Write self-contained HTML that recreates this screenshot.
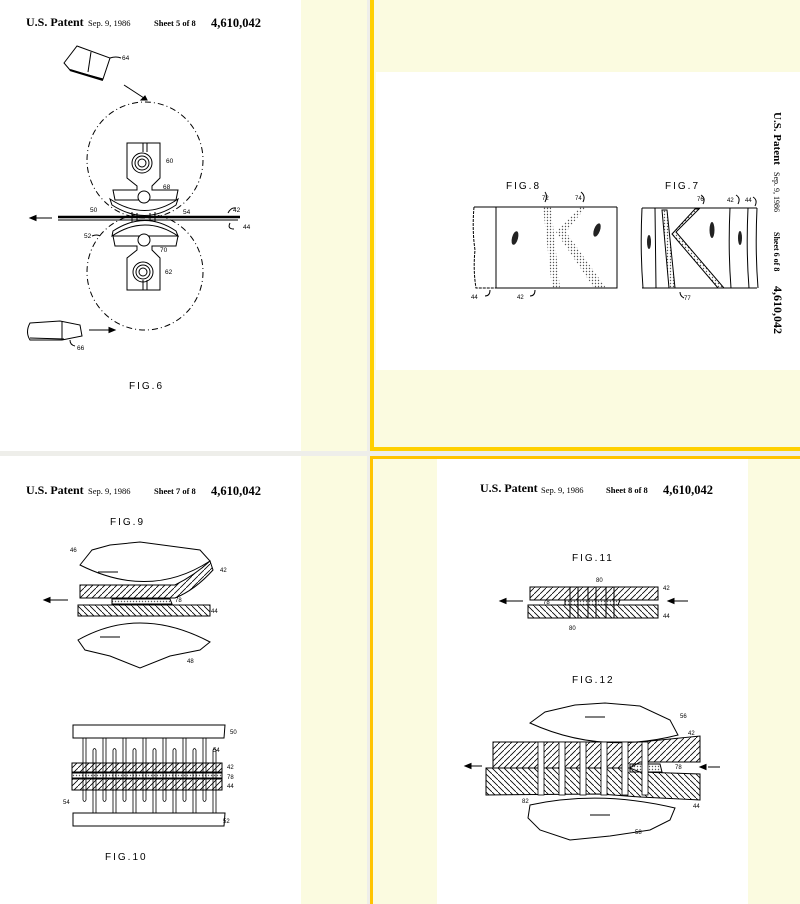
<!DOCTYPE html>
<html><head><meta charset="utf-8"><style>
html,body{margin:0;padding:0;background:#fff}
body{width:800px;height:904px;position:relative;overflow:hidden;font-family:"Liberation Serif",serif}
svg{position:absolute;left:0;top:0}
</style></head><body>
<svg width="800" height="904" viewBox="0 0 800 904" xmlns="http://www.w3.org/2000/svg" font-family="Liberation Serif, serif">
<defs>
<pattern id="h1" width="6" height="6" patternUnits="userSpaceOnUse"><path d="M0 6 L6 0" stroke="#000" stroke-width="0.8"/></pattern>
<pattern id="h2" width="6" height="6" patternUnits="userSpaceOnUse"><path d="M0 0 L6 6" stroke="#000" stroke-width="0.8"/></pattern>
<pattern id="dt" width="3" height="3" patternUnits="userSpaceOnUse"><circle cx="1.5" cy="1.5" r="0.7" fill="#555"/></pattern>
</defs>
<rect x="0" y="0" width="800" height="904" fill="#fbfbe0"/>
<rect x="0" y="0" width="301" height="451" fill="#fff"/>
<rect x="0" y="456" width="301" height="448" fill="#fff"/>
<rect x="367" y="0" width="3" height="904" fill="#eeeeea"/>
<rect x="0" y="451" width="800" height="5" fill="#eeeeea"/>
<rect x="370" y="0" width="4" height="451" fill="#ffd000"/>
<rect x="370" y="447" width="430" height="4" fill="#ffd000"/>
<rect x="370" y="456" width="3" height="448" fill="#ffc400"/>
<rect x="370" y="456" width="430" height="3" fill="#ffc400"/>
<rect x="376" y="72" width="424" height="298" fill="#fff"/>
<rect x="437" y="459" width="311" height="445" fill="#fff"/>

<text x="26" y="26" font-size="12" font-weight="bold">U.S. Patent</text>
<text x="88" y="26" font-size="8.5">Sep. 9, 1986</text>
<text x="154" y="26" font-size="8.5" font-weight="bold">Sheet 5 of 8</text>
<text x="211" y="27" font-size="12.5" font-weight="bold">4,610,042</text>
<g stroke="#000" fill="none" stroke-width="1">
<path d="M64 63 L77 46 L110 58 L103 79 L70 70 Z" fill="#fff"/>
<path d="M70 70 L103 80" stroke-width="2"/>
<path d="M91 52 L88 72"/>
<path d="M110 58 Q116 56 121 58"/>
<path d="M124 85 L147 100"/><path d="M147 100 l-6 0 l4 -4 z" fill="#000"/>
<circle cx="145" cy="160" r="58" stroke-dasharray="6 3 1 3"/>
<circle cx="145" cy="272" r="58" stroke-dasharray="6 3 1 3"/>
<path d="M127 143 L160 143 L160 178 L152 186 L152 190 L178 190 L176 200 L115 200 L113 190 L137 190 L137 186 L127 178 Z" fill="#fff"/>
<path d="M143 143 L143 152 M147 143 L147 152"/>
<circle cx="142" cy="163" r="10"/><circle cx="142" cy="163" r="7"/><circle cx="142" cy="163" r="4"/>
<path d="M110 199 Q145 222 178 199 L176 205 Q145 226 112 205 Z" fill="#fff"/>
<circle cx="144" cy="197" r="6" fill="#fff"/>
<path d="M132 212 L132 222 M137 213 L137 223 M150 213 L150 223 M155 212 L155 222"/>
<path d="M127 290 L160 290 L160 258 L152 250 L152 246 L176 246 L178 236 L113 236 L115 246 L137 246 L137 250 L127 258 Z" fill="#fff"/>
<path d="M143 290 L143 280 M147 290 L147 280"/>
<circle cx="143" cy="272" r="10"/><circle cx="143" cy="272" r="7"/><circle cx="143" cy="272" r="4"/>
<path d="M112 236 Q145 214 178 236 L176 231 Q145 210 113 231 Z" fill="#fff"/>
<circle cx="144" cy="240" r="6" fill="#fff"/>
<path d="M58 217 L240 217" stroke-width="2.4"/>
<path d="M58 220 L238 220" stroke-width="1"/>
<path d="M30 218 L52 218"/><path d="M30 218 l6 -2.5 l0 5 z" fill="#000"/>
<path d="M228 213 q3 -6 8 -5 M230 223 q-3 6 4 6 M92 236 q5 -2 8 0"/>
<path d="M30 323 L60 321 L80 325 L82 336 L62 340 L30 340 Q25 332 30 323 Z" fill="#fff"/>
<path d="M30 338 L64 339 M62 321 L62 340"/>
<path d="M89 330 L112 330"/><path d="M115 330 l-6 -2.5 l0 5 z" fill="#000"/>
<path d="M70 340 q0 5 5 6"/>
</g>
<g font-family="Liberation Sans, sans-serif" font-size="6.5">
<text x="122" y="60">64</text><text x="166" y="163">60</text><text x="163" y="189">68</text>
<text x="90" y="212">50</text><text x="183" y="214">54</text><text x="233" y="212">42</text>
<text x="243" y="229">44</text><text x="84" y="238">52</text><text x="160" y="252">70</text>
<text x="165" y="274">62</text><text x="77" y="350">66</text>
</g>
<text x="129" y="389" font-family="Liberation Sans, sans-serif" font-size="10" letter-spacing="2">FIG.6</text>

<text transform="translate(774,112) rotate(90)" font-size="11" font-weight="bold">U.S. Patent</text>
<text transform="translate(774,172) rotate(90)" font-size="8">Sep. 9, 1986</text>
<text transform="translate(774,232) rotate(90)" font-size="8" font-weight="bold">Sheet 6 of 8</text>
<text transform="translate(774,286) rotate(90)" font-size="12" font-weight="bold">4,610,042</text>
<text x="506" y="189" font-family="Liberation Sans, sans-serif" font-size="10" letter-spacing="2">FIG.8</text>
<text x="665" y="189" font-family="Liberation Sans, sans-serif" font-size="10" letter-spacing="2">FIG.7</text>
<g stroke="#000" fill="none" stroke-width="1">
<path d="M474 207 L617 207 M496 207 L496 288 L617 288 L617 207"/>
<path d="M474 207 Q472 230 475 250 Q473 270 476 288 L496 288" stroke-dasharray="3 1"/>
<path d="M543 207 L552 288 L560 288 L551 207 Z" fill="url(#dt)" stroke="none"/>
<path d="M580 207 L556 232 L594 288 L606 288 L566 232 L586 207 Z" fill="url(#dt)" stroke="none"/>
<path d="M642 208 L757 208 M642 288 L757 288"/>
<path d="M642 208 Q640 250 643 288 M655 208 L656 288 M730 208 Q728 250 731 288 M748 208 Q746 250 749 288 M757 208 Q755 250 758 288"/>
<path d="M662 210 L667 210 L675 288 L669 288 Z" fill="url(#dt)"/>
<path d="M695 209 L699 209 L676 232 L724 288 L718 288 L672 234 Z" fill="url(#dt)"/>
<path d="M545 202 q3 -6 0 -10 M583 202 q3 -6 -2 -10 M703 204 q3 -6 -2 -9 M738 204 q3 -6 -2 -9 M755 206 q3 -6 -2 -9 M485 296 q5 0 5 -6 M530 296 q5 0 5 -6 M680 292 q0 4 4 6"/>
</g>
<g fill="#222"><ellipse cx="515" cy="238" rx="3" ry="7" transform="rotate(15 515 238)"/><ellipse cx="597" cy="230" rx="3" ry="7" transform="rotate(20 597 230)"/><ellipse cx="712" cy="230" rx="2.5" ry="8"/><ellipse cx="740" cy="238" rx="2" ry="7"/><ellipse cx="649" cy="242" rx="2" ry="7"/></g>
<g font-family="Liberation Sans, sans-serif" font-size="6">
<text x="542" y="200">72</text><text x="575" y="200">74</text><text x="697" y="201">76</text><text x="727" y="202">42</text><text x="745" y="202">44</text>
<text x="471" y="299">44</text><text x="517" y="299">42</text><text x="684" y="300">77</text>
</g>

<text x="26" y="494" font-size="12" font-weight="bold">U.S. Patent</text>
<text x="88" y="494" font-size="8.5">Sep. 9, 1986</text>
<text x="154" y="494" font-size="8.5" font-weight="bold">Sheet 7 of 8</text>
<text x="211" y="495" font-size="12.5" font-weight="bold">4,610,042</text>
<text x="110" y="525" font-family="Liberation Sans, sans-serif" font-size="10" letter-spacing="2">FIG.9</text>
<g stroke="#000" stroke-width="1">
<path d="M80 565 L92 550 L110 545 L140 542 L170 546 L200 550 L210 561 Q150 600 80 565 Z" fill="#fff"/>
<path d="M80 585 L175 585 Q195 575 210 561 L213 570 Q195 590 175 598 L80 598 Z" fill="url(#h1)"/>
<path d="M112 599 L170 599 L172 604 L112 604 Z" fill="url(#dt)"/>
<path d="M78 605 L210 605 L210 616 L78 616 Z" fill="url(#h2)"/>
<path d="M78 640 Q140 605 210 642 L200 650 L170 656 L140 668 L110 656 L85 650 Z" fill="#fff"/>
<path d="M44 600 L68 600" fill="none"/><path d="M44 600 l6 -2.5 l0 5 z" fill="#000"/>
<path d="M98 572 l20 0 M100 637 l20 0" fill="none"/>
<path d="M73 725 L225 725 L224 738 L73 738 Z" fill="#fff"/>
<path d="M72 763 L222 763 L222 772 L72 772 Z" fill="url(#h1)"/>
<path d="M72 773 L222 773 L222 778 L72 778 Z" fill="url(#dt)"/>
<path d="M72 779 L222 779 L222 790 L72 790 Z" fill="url(#h1)"/>
<path d="M73 813 L225 813 L224 826 L73 826 Z" fill="#fff"/>
<g fill="none" stroke-width="0.8">
<path d="M83 738 L83 800 Q84.5 803 86 800 L86 738 M103 738 L103 800 Q104.5 803 106 800 L106 738 M123 738 L123 800 Q124.5 803 126 800 L126 738 M143 738 L143 800 Q144.5 803 146 800 L146 738 M163 738 L163 800 Q164.5 803 166 800 L166 738 M183 738 L183 800 Q184.5 803 186 800 L186 738 M203 738 L203 800 Q204.5 803 206 800 L206 738"/>
<path d="M93 813 L93 750 Q94.5 747 96 750 L96 813 M113 813 L113 750 Q114.5 747 116 750 L116 813 M133 813 L133 750 Q134.5 747 136 750 L136 813 M153 813 L153 750 Q154.5 747 156 750 L156 813 M173 813 L173 750 Q174.5 747 176 750 L176 813 M193 813 L193 750 Q194.5 747 196 750 L196 813 M213 813 L213 750 Q214.5 747 216 750 L216 813"/>
</g>
</g>
<text x="105" y="860" font-family="Liberation Sans, sans-serif" font-size="10" letter-spacing="2">FIG.10</text>
<g font-family="Liberation Sans, sans-serif" font-size="6">
<text x="70" y="552">46</text><text x="220" y="572">42</text><text x="175" y="602">78</text><text x="211" y="613">44</text><text x="187" y="663">48</text>
<text x="230" y="734">50</text><text x="213" y="752">54</text><text x="227" y="769">42</text><text x="227" y="779">78</text><text x="227" y="788">44</text><text x="63" y="804">54</text><text x="223" y="823">52</text>
</g>

<text x="480" y="492" font-size="12" font-weight="bold">U.S. Patent</text>
<text x="541" y="493" font-size="8.5">Sep. 9, 1986</text>
<text x="606" y="493" font-size="8.5" font-weight="bold">Sheet 8 of 8</text>
<text x="663" y="494" font-size="12.5" font-weight="bold">4,610,042</text>
<text x="572" y="561" font-family="Liberation Sans, sans-serif" font-size="10" letter-spacing="2">FIG.11</text>
<text x="572" y="683" font-family="Liberation Sans, sans-serif" font-size="10" letter-spacing="2">FIG.12</text>
<g stroke="#000" stroke-width="1">
<path d="M530 587 L658 587 L658 600 L530 600 Z" fill="url(#h1)"/>
<path d="M528 605 L658 605 L658 618 L528 618 Z" fill="url(#h2)"/>
<path d="M565 600 L620 600 L618 605 L565 605 Z" fill="url(#dt)"/>
<path d="M570 587 L570 618 M578 587 L578 618 M588 587 L588 618 M596 587 L596 618 M606 587 L606 618 M614 587 L614 618" fill="none"/>
<path d="M500 601 L523 601 M668 601 L688 601" fill="none"/><path d="M500 601 l6 -2.5 l0 5 z M668 601 l6 -2.5 l0 5 z" fill="#000"/>
<path d="M530 723 L545 712 L575 705 L605 703 L640 706 L670 720 L678 735 Q600 755 530 723 Z" fill="#fff"/>
<path d="M493 742 L640 742 L700 736 L700 762 L640 762 L630 768 L493 768 Z" fill="url(#h1)"/>
<path d="M486 768 L630 768 L640 772 L700 774 L700 800 L640 797 L600 794 L486 795 Z" fill="url(#h2)"/>
<path d="M630 764 L660 764 L662 772 L630 772 Z" fill="url(#dt)"/>
<g fill="#fff" stroke-width="0.8">
<rect x="538" y="742" width="6" height="53"/><rect x="559" y="742" width="6" height="53"/><rect x="580" y="742" width="6" height="53"/><rect x="601" y="742" width="6" height="53"/><rect x="622" y="742" width="6" height="53"/><rect x="642" y="742" width="6" height="53"/>
</g>
<path d="M530 805 Q600 790 675 808 L670 820 L650 830 L610 836 L570 840 L540 830 L528 818 Z" fill="#fff"/>
<path d="M465 766 L482 766 M708 767 L720 767" fill="none"/><path d="M465 766 l6 -2.5 l0 5 z M700 767 l6 -2.5 l0 5 z" fill="#000"/>
<path d="M585 717 l20 0 M590 815 l20 0" fill="none"/>
</g>
<g font-family="Liberation Sans, sans-serif" font-size="6">
<text x="596" y="582">80</text><text x="663" y="590">42</text><text x="543" y="604">78</text><text x="663" y="618">44</text><text x="569" y="630">80</text>
<text x="680" y="718">56</text><text x="688" y="735">42</text><text x="675" y="769">78</text><text x="522" y="803">82</text><text x="693" y="808">44</text><text x="635" y="834">58</text>
</g>
</svg>
</body></html>
